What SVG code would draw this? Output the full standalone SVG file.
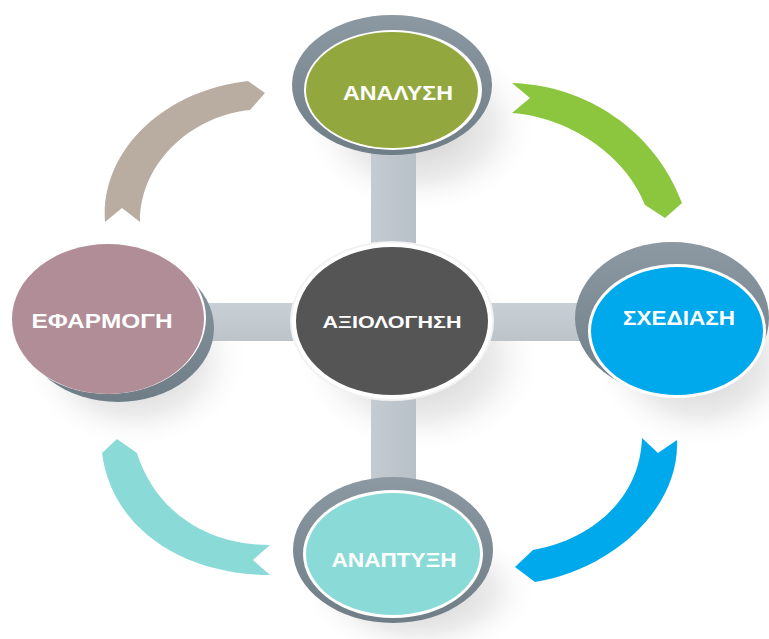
<svg xmlns="http://www.w3.org/2000/svg" width="769" height="639" viewBox="0 0 769 639">
<defs>
<radialGradient id="sh" cx="0.5" cy="0.5" r="0.5">
<stop offset="0" stop-color="#9a9a9a" stop-opacity="0.55"/>
<stop offset="0.6" stop-color="#bdbdbd" stop-opacity="0.3"/>
<stop offset="1" stop-color="#ffffff" stop-opacity="0"/>
</radialGradient>
<linearGradient id="barH" x1="0" y1="0" x2="0" y2="1">
<stop offset="0" stop-color="#c9d0d5"/>
<stop offset="1" stop-color="#bcc4ca"/>
</linearGradient>
<linearGradient id="barV" x1="0" y1="0" x2="1" y2="0">
<stop offset="0" stop-color="#c4ccd2"/>
<stop offset="1" stop-color="#b9c1c8"/>
</linearGradient>
<linearGradient id="ring" x1="0" y1="0" x2="0" y2="1">
<stop offset="0" stop-color="#8c99a2"/>
<stop offset="1" stop-color="#6f7d87"/>
</linearGradient>
</defs>
<style>
.lbl{font-family:"Liberation Sans","Open Sans",sans-serif;font-weight:bold;fill:#ffffff;text-anchor:middle}
</style>
<rect width="769" height="639" fill="#ffffff"/>
<g id="shadows">
<ellipse cx="420" cy="125" rx="120" ry="90" fill="url(#sh)"/>
<ellipse cx="700" cy="360" rx="110" ry="90" fill="url(#sh)"/>
<ellipse cx="420" cy="360" rx="125" ry="95" fill="url(#sh)"/>
<ellipse cx="420" cy="590" rx="120" ry="70" fill="url(#sh)"/>
<ellipse cx="135" cy="360" rx="115" ry="90" fill="url(#sh)"/>
</g>
<g id="connectors">
<rect x="371" y="150" width="45" height="335" fill="url(#barV)"/>
<rect x="205" y="303" width="380" height="38" fill="url(#barH)"/>
</g>
<g id="arrows">
<path id="arrow-green" d="M512,83 C585,85 655,130 682,203 L665,218 L645,205 C628,160 575,118 512,113 L530,98 Z" fill="#8cc63f"/>
<path id="arrow-blue" d="M642,438 L658,453 L677,440 C680,510 610,570 535,582 L515,567 L533,550 C590,540 640,500 642,438 Z" fill="#00a8ec"/>
<path id="arrow-teal" d="M117,439 L137,453 C155,510 205,545 270,545 L253,560 L270,575 C185,575 112,530 102,453 Z" fill="#8adbd7"/>
<path id="arrow-taupe" d="M105,222 C100,150 165,90 248,81 L265,93 L250,110 C195,115 140,160 140,222 L122,208 Z" fill="#b9aca1"/>
</g>
<g id="node-analysi">
<ellipse cx="392" cy="85" rx="100" ry="70" fill="url(#ring)"/>
<ellipse cx="393" cy="90" rx="89" ry="60" fill="#ffffff"/>
<ellipse cx="392" cy="90" rx="86" ry="58" fill="#92a83e"/>
<text class="lbl" x="398" y="100" font-size="21" textLength="110" lengthAdjust="spacingAndGlyphs">ΑΝΑΛΥΣΗ</text>
</g>
<g id="node-schediasi">
<ellipse cx="672" cy="318" rx="97" ry="76" fill="url(#ring)"/>
<ellipse cx="677" cy="331" rx="89" ry="67" fill="#ffffff"/>
<ellipse cx="677" cy="331" rx="86" ry="64" fill="#00a8ec"/>
<text class="lbl" x="679" y="325" font-size="20" textLength="112" lengthAdjust="spacingAndGlyphs">ΣΧΕΔΙΑΣΗ</text>
</g>
<g id="node-anaptyxi">
<ellipse cx="393" cy="550" rx="100" ry="73" fill="url(#ring)"/>
<ellipse cx="393" cy="554" rx="90" ry="64" fill="#ffffff"/>
<ellipse cx="393" cy="554" rx="87" ry="61" fill="#8adbd7"/>
<text class="lbl" x="394" y="567" font-size="20" textLength="125" lengthAdjust="spacingAndGlyphs">ΑΝΑΠΤΥΞΗ</text>
</g>
<g id="node-efarmogi">
<ellipse cx="118" cy="328" rx="96" ry="74" fill="url(#ring)"/>
<ellipse cx="108" cy="318" rx="98" ry="76" fill="#ffffff"/>
<ellipse cx="108" cy="319" rx="96" ry="75" fill="#b18d97"/>
<text class="lbl" x="102" y="328" font-size="21" textLength="141" lengthAdjust="spacingAndGlyphs">ΕΦΑΡΜΟΓΗ</text>
</g>
<g id="node-axiologisi">
<ellipse cx="392" cy="321" rx="102" ry="80" fill="#f2f2f2"/>
<ellipse cx="392" cy="321" rx="98" ry="76" fill="#555555" stroke="#ffffff" stroke-width="4"/>
<text class="lbl" x="392" y="328" font-size="16" textLength="139" lengthAdjust="spacingAndGlyphs">ΑΞΙΟΛΟΓΗΣΗ</text>
</g>
</svg>
